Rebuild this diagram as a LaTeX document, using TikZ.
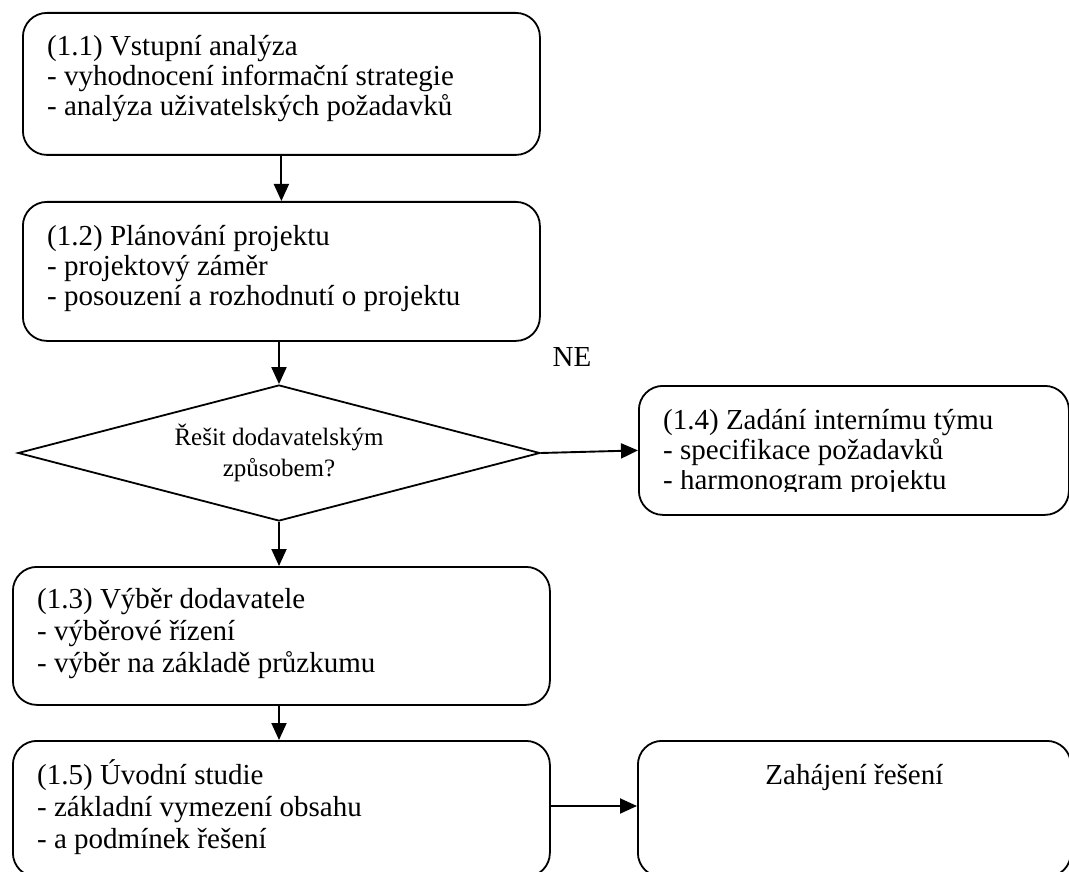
\documentclass[tikz,border=0pt]{standalone}
\usepackage{fontspec}
\setmainfont{Liberation Serif}
\usetikzlibrary{shapes.geometric,arrows.meta,calc}
\begin{document}
\begin{tikzpicture}[x=1pt,y=-1pt,
  box/.style={draw,line width=1.8pt,rounded corners=24pt,inner sep=0pt,anchor=north west},
  txt/.style={inner sep=0pt,anchor=base west,font=\fontsize{29}{26}\selectfont},
  arr/.style={line width=1.9pt,-{Triangle[length=17pt,width=15pt]}},
  ]
\useasboundingbox (0,0) rectangle (1069,872);
% boxes
\node[box,minimum width=517pt,minimum height=142pt] (b11) at (22,12) {};
\node[box,minimum width=517pt,minimum height=139pt] (b12) at (22,201) {};
\node[draw,line width=1.8pt,shape=diamond,inner sep=0pt,minimum width=522pt,minimum height=136pt] (dia) at (279,453) {};
\node[box,minimum width=430pt,minimum height=129pt] (b14) at (638,385) {};
\node[box,minimum width=537pt,minimum height=138pt] (b13) at (12,566) {};
\node[box,minimum width=537pt,minimum height=136pt] (b15) at (12,740) {};
\node[box,minimum width=433pt,minimum height=136pt] (bz) at (637,740) {};
% texts
\node[txt] (t11a) at ($(b11.north west)+(25,44)$) {(1.1) Vstupní analýza};
\node[txt] (t11b) at ($(b11.north west)+(25,74)$) {- vyhodnocení informační strategie};
\node[txt] (t11c) at ($(b11.north west)+(25,104)$) {- analýza uživatelských požadavků};
\node[txt] (t12a) at ($(b12.north west)+(25,44)$) {(1.2) Plánování projektu};
\node[txt] (t12b) at ($(b12.north west)+(25,74)$) {- projektový záměr};
\node[txt] (t12c) at ($(b12.north west)+(25,104)$) {- posouzení a rozhodnutí o projektu};
\node[txt] (t14a) at ($(b14.north west)+(25,44)$) {(1.4) Zadání internímu týmu};
\node[txt] (t14b) at ($(b14.north west)+(25,74)$) {- specifikace požadavků};
\begin{scope}
\clip (640,470) rectangle (1060,491);
\node[txt] (t14c) at ($(b14.north west)+(25,104)$) {- harmonogram projektu};
\end{scope}
\node[txt] (t13a) at ($(b13.north west)+(25,42)$) {(1.3) Výběr dodavatele};
\node[txt] (t13b) at ($(b13.north west)+(25,74)$) {- výběrové řízení};
\node[txt] (t13c) at ($(b13.north west)+(25,106)$) {- výběr na základě průzkumu};
\node[txt] (t15a) at ($(b15.north west)+(25,44)$) {(1.5) Úvodní studie};
\node[txt] (t15b) at ($(b15.north west)+(25,76)$) {- základní vymezení obsahu};
\node[txt] (t15c) at ($(b15.north west)+(25,108)$) {- a podmínek řešení};
\node[inner sep=0pt,anchor=base,font=\fontsize{29}{26}\selectfont] (tz) at ($(bz.north)+(0,44)$) {Zahájení řešení};
\node[inner sep=0pt,align=center,font=\fontsize{25}{31}\selectfont] (td) at (dia.center) {Řešit dodavatelským\\způsobem?};
\node[inner sep=0pt,font=\fontsize{29}{26}\selectfont] (ne) at (572,357) {NE};
% connectors
\draw[arr] (b11.south) -- (b12.north);
\draw[arr] (b12.south -| dia.north) -- (dia.north);
\draw[arr] (dia.east) -- (b14.west);
\draw[arr] (dia.south) -- (b13.north -| dia.south);
\draw[arr] (b13.south -| dia.south) -- (b15.north -| dia.south);
\draw[arr] (b15.east |- 0,806) -- (bz.west |- 0,806);
\end{tikzpicture}
\end{document}
